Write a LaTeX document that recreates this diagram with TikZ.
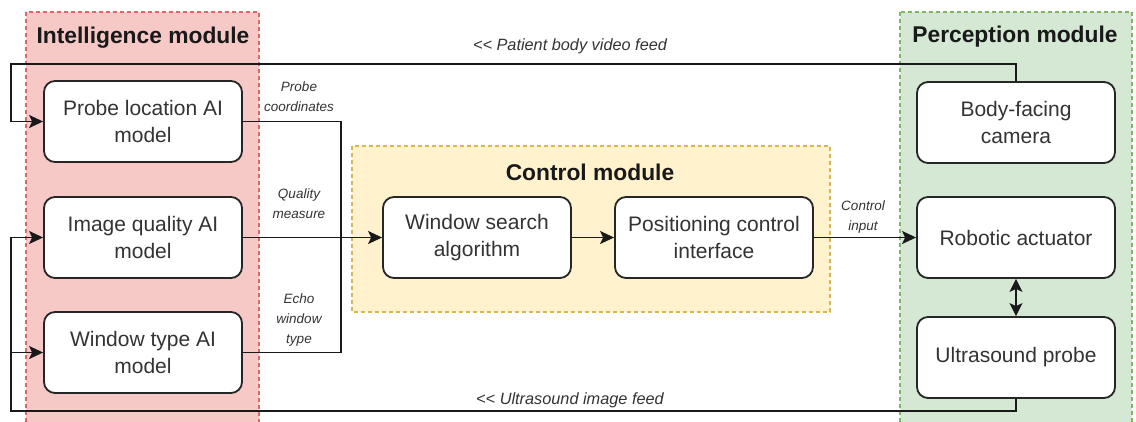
\documentclass[tikz,border=0pt]{standalone}
\usepackage{fontspec}
\setmainfont{Liberation Sans}
\usetikzlibrary{arrows.meta}
\definecolor{redfill}{HTML}{F6C8C6}
\definecolor{redline}{HTML}{D46A6A}
\definecolor{yelfill}{HTML}{FFF2CC}
\definecolor{yelline}{HTML}{D6B656}
\definecolor{grnfill}{HTML}{D5E8D4}
\definecolor{grnline}{HTML}{82B366}
\definecolor{txt}{HTML}{333333}
\begin{document}
\begin{tikzpicture}[x=1pt,y=-1pt,
  module/.style={line width=1.1pt, dash pattern=on 4pt off 3pt},
  box/.style={draw=black!85, line width=1.8pt, rounded corners=11pt, fill=white,
    minimum width=198pt, minimum height=81pt, align=center, inner sep=0pt,
    font=\fontsize{21}{26.5}\selectfont, text=txt},
  modtitle/.style={font=\bfseries\fontsize{22.8}{26}\selectfont, text=black!90},
  lbl/.style={font=\itshape\fontsize{13.5}{20}\selectfont, text=txt, align=center},
  feed/.style={font=\itshape\fontsize{16.3}{19}\selectfont, text=txt},
  conn/.style={line width=1.5pt, draw=black!90},
  arr/.style={conn, -{Stealth[length=14pt,width=13pt,inset=3pt]}},
  darr/.style={conn, {Stealth[length=13pt,width=13pt,inset=3pt]}-{Stealth[length=13pt,width=13pt,inset=3pt]}}]
\useasboundingbox (0,0) rectangle (1136,421);

% module backgrounds
\path[module, fill=redfill, draw=redline] (26,12) rectangle (259,423);
\path[module, fill=yelfill, draw=yelline] (352,146) rectangle (830,312);
\path[module, fill=grnfill, draw=grnline] (900,12) rectangle (1132,423);

\node[modtitle] (tI) at (143,38) {Intelligence module};
\node[modtitle] (tC) at (590,172) {Control module};
\node[modtitle] (tP) at (1015,37) {Perception module};

% boxes
\node[box] (probe) at (143,121.5) {Probe location AI\\model};
\node[box] (iq) at (143,237.5) {Image quality AI\\model};
\node[box] (wt) at (143,352.5) {Window type AI\\model};
\node[box, minimum width=188pt] (ws) at (477,237.5) {Window search\\algorithm};
\node[box] (pc) at (714,237.5) {Positioning control\\interface};
\node[box] (cam) at (1016,122.5) {Body-facing\\camera};
\node[box] (ra) at (1016,237.5) {Robotic actuator};
\node[box] (up) at (1016,357.5) {Ultrasound probe};

% helper coordinates
\coordinate (tl) at (11,64);
\coordinate (bl) at (11,411);
\coordinate (jx) at (341,0);

% connectors
\draw[arr] (cam.north) -- (cam.north |- tl) -- (tl) |- (probe.west);
\draw[arr] (up.south) -- (up.south |- bl) -- (bl) |- (iq.west);
\draw[arr] (bl |- wt.west) -- (wt.west);
\draw[conn] (probe.east) -| (jx |- wt.east) -- (wt.east);
\draw[arr] (iq.east) -- (ws.west);
\draw[arr] (ws.east) -- (pc.west);
\draw[arr] (pc.east) -- (ra.west);
\draw[darr] (ra.south) -- (up.north);

% labels
\node[lbl] (lpc) at (299,97) {Probe\\coordinates};
\node[lbl] (lqm) at (299,204) {Quality\\measure};
\node[lbl] (lew) at (299,320) {Echo\\window\\type};
\node[lbl] (lci) at (863,217) {Control\\input};
\node[feed] (lpv) at (570,46) {<{}< Patient body video feed};
\node[feed] (lus) at (570,400) {<{}< Ultrasound image feed};
\end{tikzpicture}
\end{document}
